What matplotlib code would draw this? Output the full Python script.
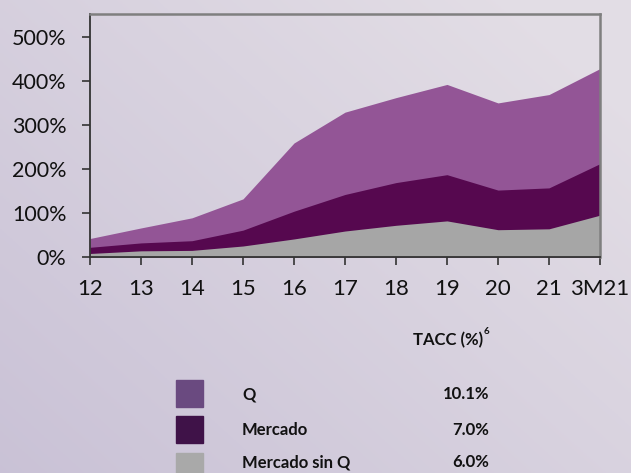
import numpy as np
import matplotlib.pyplot as plt

periodos = ['12', '13', '14', '15', '16', '17', '18', '19', '20', '21', '3M21']
q = [42, 66, 89, 132, 259, 329, 362, 392, 350, 369, 428]
mercado = [22, 32, 37, 61, 104, 142, 169, 187, 152, 157, 212]
mercado_sin_q = [8, 14, 15, 25, 41, 59, 72, 82, 62, 64, 95]

series = ['Q', 'Mercado', 'Mercado sin Q']
tacc = ['10.1%', '7.0%', '6.0%']
colores_area = ['#935596', '#56084F', '#A6A6A6']
colores_leyenda = ['#6A4A80', '#3F1248', '#A9A9A9']

plt.rcParams['font.family'] = ['Lato', 'DejaVu Sans']

fig = plt.figure(figsize=(6.31, 4.73), dpi=100)

# fondo degradado
bg = fig.add_axes([0, 0, 1, 1], zorder=-10)
gx = np.linspace(0, 1, 200)
gy = np.linspace(0, 1, 200)
X, Y = np.meshgrid(gx, gy)
base = np.array([0.79, 0.76, 0.84])
tope = np.array([0.89, 0.87, 0.90])
t = np.clip(0.6 * X + 0.5 * (1 - Y), 0, 1)[..., None]
img = base * (1 - t) + tope * t
bg.imshow(img, aspect='auto', extent=[0, 1, 0, 1], origin='upper')
bg.axis('off')

ax = fig.add_axes([90 / 631, 1 - 257 / 473, 510 / 631, 243 / 473])
ax.set_facecolor('none')
x = np.arange(len(periodos))
for vals, col in zip([q, mercado, mercado_sin_q], colores_area):
    ax.fill_between(x, 0, vals, color=col, linewidth=0)

ax.set_xlim(0, len(periodos) - 1)
ax.set_ylim(0, 552)
ax.set_yticks([0, 100, 200, 300, 400, 500])
ax.set_yticklabels([f'{v}%' for v in [0, 100, 200, 300, 400, 500]])
ax.set_xticks(x)
ax.set_xticklabels(periodos)
for s in ax.spines.values():
    s.set_color('#7F7F7F')
    s.set_linewidth(1.8)
ax.spines['left'].set_color('#333333')
ax.spines['left'].set_linewidth(1.3)
ax.spines['bottom'].set_color('#333333')
ax.spines['bottom'].set_linewidth(1.3)
ax.tick_params(axis='y', labelsize=15.5, length=6, width=1.2, color='#333333', pad=11)
ax.tick_params(axis='x', labelsize=16, length=6, width=1.2, color='#333333', pad=10)
for lab in ax.get_xticklabels() + ax.get_yticklabels():
    lab.set_color('#111111')

fig.text(483 / 631, 1 - 340 / 473, 'TACC (%)', ha='right', va='center',
         fontsize=12, fontweight='bold', color='#111111')
fig.text(484 / 631, 1 - 331 / 473, '6', ha='left', va='center',
         fontsize=7, fontweight='bold', color='#111111')

ys = [394, 430, 467]
for nombre, valor, col, yp in zip(series, tacc, colores_leyenda, ys):
    fig.patches.append(plt.Rectangle((176 / 631, 1 - (yp + 13) / 473), 27 / 631, 27 / 473,
                                     transform=fig.transFigure, color=col, zorder=5))
    yt = min(yp, 462)
    fig.text(242 / 631, 1 - yt / 473, nombre, ha='left', va='center',
             fontsize=12, fontweight='bold', color='#111111')
    fig.text(489 / 631, 1 - yt / 473, valor, ha='right', va='center',
             fontsize=12, fontweight='bold', color='#111111')

fig.savefig('out.png', dpi=100)
